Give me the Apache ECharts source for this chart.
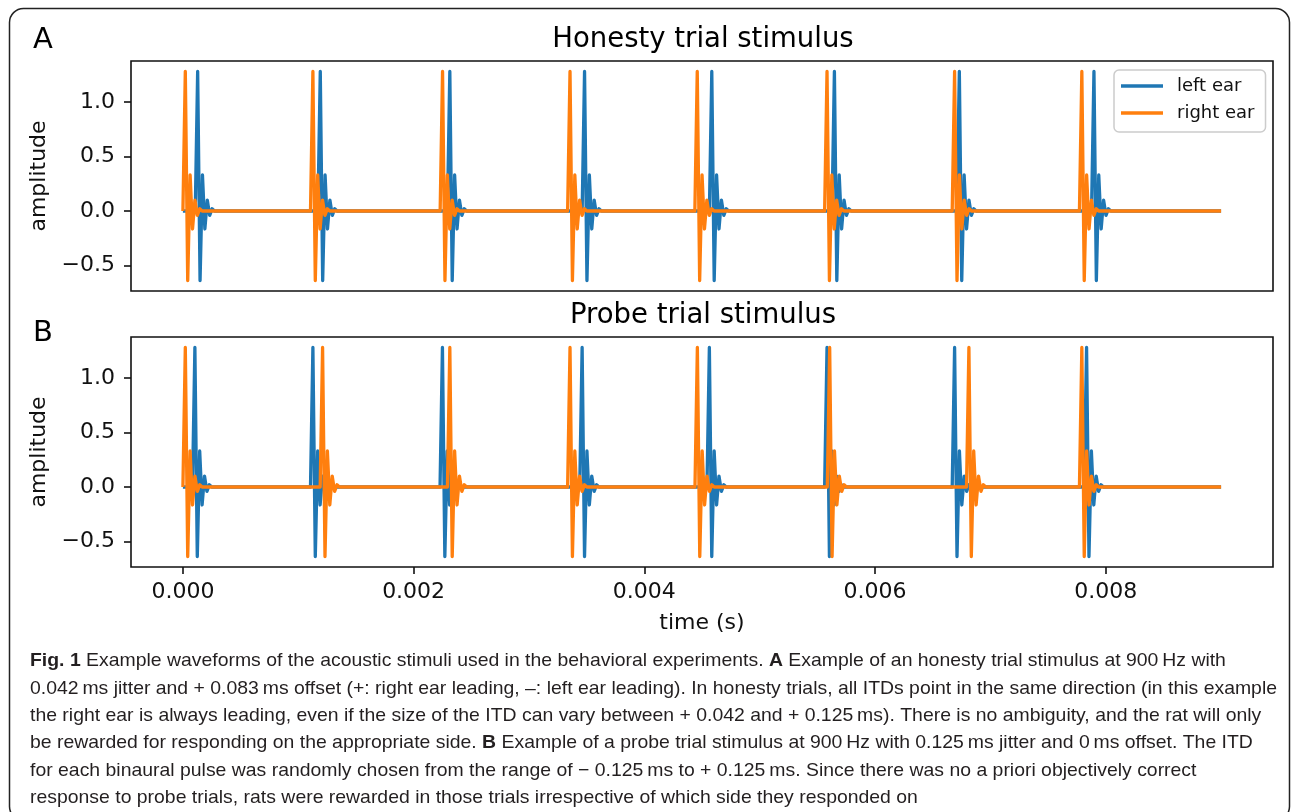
<!DOCTYPE html>
<html>
<head>
<meta charset="utf-8">
<title>Fig. 1 – acoustic stimuli waveforms</title>
<script src="https://cdn.jsdelivr.net/npm/echarts@6/dist/echarts.min.js"></script>
<style>
  html, body { margin: 0; padding: 0; background: #fff; }
  #chart { width: 1292px; height: 812px; }
</style>
</head>
<body>
<div id="chart"></div>
<script>
// ---- data -------------------------------------------------------------
// One binaural click as sampled at SAMPLE_RATE (amplitude per sample, starting at onset)
const SAMPLE_RATE = 48000;
const clickShape = [0, 1.28, -0.638, 0.33, -0.165, 0.1, -0.04, 0.02, 0];
const stimulusEnd = 0.009; // s

// Click onsets in ms
const honestyLeftOnsets  = [0.107, 1.170, 2.293, 3.461, 4.564, 5.627, 6.710, 7.877];
const honestyRightOnsets = [0.000, 1.106, 2.230, 3.335, 4.438, 5.563, 6.669, 7.772];
const probeLeftOnsets    = [0.083, 1.106, 2.229, 3.440, 4.543, 5.563, 6.669, 7.813];
const probeRightOnsets   = [0.000, 1.190, 2.293, 3.335, 4.439, 5.586, 6.793, 7.772];

const timeTicks = [0, 0.002, 0.004, 0.006, 0.008];
const ampTicks  = [-0.5, 0, 0.5, 1.0];

const panelTitles = ['Honesty trial stimulus', 'Probe trial stimulus'];
const panelLetters = ['A', 'B'];
const seriesNames = ['left ear', 'right ear'];

const captionLines = [
  '{b|Fig. 1} Example waveforms of the acoustic stimuli used in the behavioral experiments. {b|A} Example of an honesty trial stimulus at 900\u2009Hz with',
  '0.042\u2009ms jitter and + 0.083\u2009ms offset (+: right ear leading, \u2013: left ear leading). In honesty trials, all ITDs point in the same direction (in this example',
  'the right ear is always leading, even if the size of the ITD can vary between + 0.042 and + 0.125\u2009ms). There is no ambiguity, and the rat will only',
  'be rewarded for responding on the appropriate side. {b|B} Example of a probe trial stimulus at 900\u2009Hz with 0.125\u2009ms jitter and 0\u2009ms offset. The ITD',
  'for each binaural pulse was randomly chosen from the range of \u2212 0.125\u2009ms to + 0.125\u2009ms. Since there was no a priori objectively correct',
  'response to probe trials, rats were rewarded in those trials irrespective of which side they responded on'
];

// ---- helpers ----------------------------------------------------------
// Place the sampled click at every onset on a silent baseline.
function buildTrace(onsetsMs) {
  const pts = [[0, 0]];
  onsetsMs.forEach(ms => {
    const t0 = ms / 1000;
    clickShape.forEach((v, i) => pts.push([t0 + i / SAMPLE_RATE, v]));
  });
  pts.push([stimulusEnd, 0]);
  return pts;
}

const BLUE = '#1f77b4', ORANGE = '#ff7f0e';
const INK = '#111';
const FONT = 'DejaVu Sans';
const CAPTION_FONT = '"Liberation Sans Narrow", "Liberation Sans", sans-serif';
const CAPTION_SIZE = 19;

const grids = [
  { left: 131, top: 61,  width: 1142, height: 230 },
  { left: 131, top: 337, width: 1142, height: 230 }
];

function xAxis(idx, showLabels) {
  return {
    type: 'value', gridIndex: idx,
    min: -0.00045, max: 0.00945,
    axisLine: { show: false, onZero: false },
    splitLine: { show: false },
    axisTick: { show: showLabels, customValues: timeTicks, length: 7, inside: false,
                lineStyle: { color: INK, width: 1.6 } },
    axisLabel: { show: showLabels, customValues: timeTicks, margin: 14,
                 fontFamily: FONT, fontSize: 22, color: INK,
                 formatter: v => v.toFixed(3) },
    name: showLabels ? 'time (s)' : '',
    nameLocation: 'middle', nameGap: 45,
    nameTextStyle: { fontFamily: FONT, fontSize: 22, color: INK }
  };
}

function yAxis(idx) {
  return {
    type: 'value', gridIndex: idx,
    min: -0.734, max: 1.376,
    axisLine: { show: false, onZero: false },
    splitLine: { show: false },
    axisTick: { show: true, customValues: ampTicks, length: 7,
                lineStyle: { color: INK, width: 1.6 } },
    axisLabel: { customValues: ampTicks, margin: 16,
                 fontFamily: FONT, fontSize: 22, color: INK,
                 formatter: v => (v < 0 ? '\u2212' : '') + Math.abs(v).toFixed(1) },
    name: 'amplitude', nameLocation: 'middle', nameRotate: 90, nameGap: 78,
    nameTextStyle: { fontFamily: FONT, fontSize: 22, color: INK }
  };
}

function trace(name, color, idx, onsets) {
  return {
    type: 'line', name: name,
    xAxisIndex: idx, yAxisIndex: idx,
    data: buildTrace(onsets),
    showSymbol: false, symbol: 'none',
    color: color,
    lineStyle: { color: color, width: 3.3, join: 'round', cap: 'butt' },
    itemStyle: { color: color },
    animation: false, silent: true
  };
}

// ---- caption text scaled to the column width --------------------------
const captionWidth = 1247;
const mctx = document.createElement('canvas').getContext('2d');
mctx.font = CAPTION_SIZE + 'px ' + CAPTION_FONT;
const captionScale = captionWidth / mctx.measureText(captionLines[1]).width;

const captionY = [661, 689, 716, 743, 771, 798];
const captionGraphics = captionLines.map((line, i) => ({
  type: 'text', x: 30, y: captionY[i], scaleX: captionScale,
  style: {
    text: line, x: 0, y: 0, verticalAlign: 'middle', align: 'left',
    font: CAPTION_SIZE + 'px ' + CAPTION_FONT, fill: '#231f20',
    rich: { b: { fontWeight: 'bold', fontSize: CAPTION_SIZE, fontFamily: CAPTION_FONT, fill: '#231f20' } }
  },
  silent: true
}));

// ---- chart ------------------------------------------------------------
const chart = echarts.init(document.getElementById('chart'), null, { renderer: 'canvas' });

chart.setOption({
  animation: false,
  backgroundColor: '#fff',
  title: [
    { text: panelTitles[0], left: 698, top: 21, textAlign: 'center',
      textStyle: { fontFamily: FONT, fontSize: 27.5, fontWeight: 'normal', color: '#000' } },
    { text: panelTitles[1], left: 698, top: 297, textAlign: 'center',
      textStyle: { fontFamily: FONT, fontSize: 27.5, fontWeight: 'normal', color: '#000' } },
    { text: panelLetters[0], left: 28, top: 21,
      textStyle: { fontFamily: FONT, fontSize: 29, fontWeight: 'normal', color: '#000' } },
    { text: panelLetters[1], left: 28, top: 314,
      textStyle: { fontFamily: FONT, fontSize: 29, fontWeight: 'normal', color: '#000' } }
  ],
  legend: {
    data: seriesNames,
    orient: 'vertical', left: 1114, top: 70,
    icon: 'rect', itemWidth: 42, itemHeight: 3.3, itemGap: 9,
    padding: [7, 11, 10, 7],
    backgroundColor: 'rgba(255,255,255,0.8)',
    borderColor: '#cccccc', borderWidth: 1.5, borderRadius: 5,
    textStyle: { fontFamily: FONT, fontSize: 18, color: INK, padding: [0, 0, 0, 9] },
    selectedMode: false
  },
  grid: grids.map(g => Object.assign({ show: true, borderColor: INK, borderWidth: 1.6,
                                       backgroundColor: 'transparent', containLabel: false }, g)),
  xAxis: [xAxis(0, false), xAxis(1, true)],
  yAxis: [yAxis(0), yAxis(1)],
  series: [
    trace(seriesNames[0], BLUE, 0, honestyLeftOnsets),
    trace(seriesNames[1], ORANGE, 0, honestyRightOnsets),
    trace(seriesNames[0], BLUE, 1, probeLeftOnsets),
    trace(seriesNames[1], ORANGE, 1, probeRightOnsets)
  ],
  graphic: [
    { type: 'rect', shape: { x: 9.5, y: 8.5, width: 1280, height: 812, r: 14 },
      style: { fill: 'none', stroke: '#222', lineWidth: 1.5 }, silent: true, z: 100 }
  ].concat(captionGraphics)
});
</script>
</body>
</html>
